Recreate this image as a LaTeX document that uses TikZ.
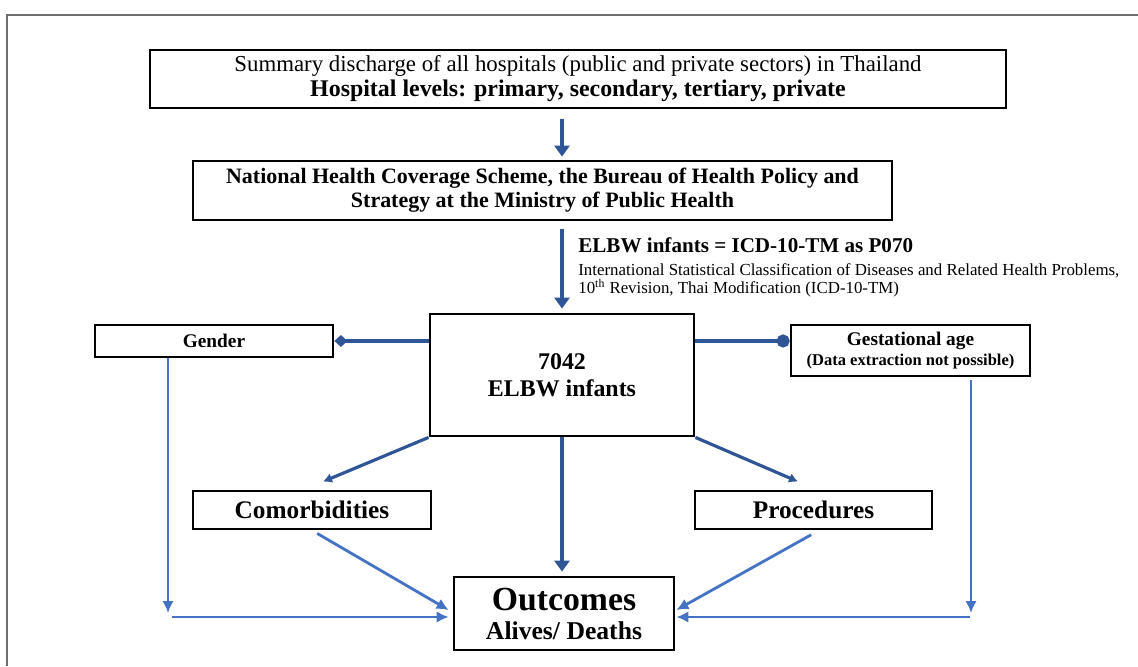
\documentclass[tikz,border=0pt]{standalone}
\usepackage{fontspec}
\setmainfont{Liberation Serif}
\usepackage{xcolor}
\usepackage{tikz}
\usetikzlibrary{arrows.meta,positioning,calc}
\definecolor{flowdark}{HTML}{2F5597}
\definecolor{flowlight}{HTML}{4472C4}
\definecolor{framegray}{HTML}{6E6E6E}
\tikzset{
  stagebox/.style={draw=black,line width=1.6pt,fill=white,align=center,inner sep=1pt},
  mainarrow/.style={-{Triangle[length=2.2mm,width=3mm]},draw=flowdark,line width=2pt},
  sidearrow/.style={-{Latex[length=1.8mm,width=2mm]},draw=flowdark,line width=1.8pt},
  factorarrow/.style={-{Latex[length=2.4mm,width=2.3mm]},draw=flowlight,line width=1.6pt},
  diamondlink/.style={-{Diamond[length=2.6mm,width=2.4mm]},draw=flowdark,line width=1.8pt},
  circlelink/.style={-{Circle[length=2.6mm]},draw=flowdark,line width=1.8pt},
  framedge/.style={draw=framegray,line width=1.1pt}
}

\begin{document}
\begin{tikzpicture}[x=0.02cm,y=-0.02cm]
  \useasboundingbox (0,0) rectangle (1138,666);
  \draw[framedge] (1138,15) -- (7,15) -- (7,666);

  \node[stagebox,minimum width=17.12cm,minimum height=1.16cm,font=\fontsize{13}{14.2}\selectfont] (source) at (578,79)
    {Summary discharge of all hospitals (public and private sectors) in Thailand\\
     {\fontsize{13.6}{14.2}\selectfont\bfseries Hospital levels: primary, secondary, tertiary, private}};
  \node[stagebox,minimum width=13.98cm,minimum height=1.18cm,font=\fontsize{12.5}{13.6}\selectfont\bfseries] (scheme) at (542.5,190.5)
    {National Health Coverage Scheme, the Bureau of Health Policy and\\
     Strategy at the Ministry of Public Health};
  \node[anchor=west,font=\fontsize{12}{14}\selectfont\bfseries,inner sep=0pt] (icdhead) at (578,245)
    {ELBW infants = ICD-10-TM as P070};
  \node[align=left,font=\fontsize{9.6}{10.4}\selectfont,inner sep=0pt,below=0.2cm of icdhead.south west,anchor=north west] (icdnote)
    {International Statistical Classification of Diseases and Related Health Problems,\\
     10\textsuperscript{th} Revision, Thai Modification (ICD-10-TM)};

  \node[stagebox,minimum width=5.28cm,minimum height=2.44cm,font=\fontsize{13.6}{15.5}\selectfont\bfseries] (elbw) at (562,375)
    {7042\\ELBW infants};
  \node[stagebox,minimum width=4.76cm,minimum height=0.64cm,font=\fontsize{11}{11}\selectfont\bfseries] (gender) at (214,341)
    {Gender};
  \node[stagebox,minimum width=4.78cm,minimum height=1.02cm,font=\fontsize{11}{11.5}\selectfont\bfseries] (gest) at (910.5,350.5)
    {Gestational age\\{\fontsize{9.4}{10}\selectfont (Data extraction not possible)}};
  \node[stagebox,minimum width=4.76cm,minimum height=0.76cm,font=\fontsize{14.4}{14}\selectfont\bfseries] (comorb) at (312,510)
    {Comorbidities};
  \node[stagebox,minimum width=4.74cm,minimum height=0.76cm,font=\fontsize{14.4}{14}\selectfont\bfseries] (proc) at (813.5,510)
    {Procedures};
  \node[stagebox,minimum width=4.4cm,minimum height=1.46cm,font=\fontsize{14.6}{16.5}\selectfont\bfseries] (outc) at (564,613.5)
    {{\fontsize{19.2}{18}\selectfont Outcomes}\\Alives/ Deaths};

  \coordinate (gturn) at (168,613);
  \coordinate (gbase) at (172,617);
  \coordinate (aturn) at (971,613);
  \coordinate (abase) at (970,617);

  \draw[mainarrow,shorten <=0.2cm,shorten >=0.06cm] (source.south -| elbw.north) -- (scheme.north -| elbw.north);
  \draw[mainarrow,shorten <=0.16cm,shorten >=0.08cm] (scheme.south -| elbw.north) -- (elbw.north);
  \draw[diamondlink] (elbw.west |- gender.east) -- (gender.east);
  \draw[circlelink] (elbw.east |- gender.east) -- (gest.west |- gender.east);
  \draw[sidearrow] (elbw.south west) -- ([xshift=0.22cm,yshift=0.16cm]comorb.north);
  \draw[sidearrow] (elbw.south east) -- ([xshift=-0.31cm,yshift=0.16cm]proc.north);
  \draw[mainarrow,shorten >=0.08cm] (elbw.south) -- (elbw.south |- outc.north);

  \draw[factorarrow] (gender.south -| gturn) -- (gturn);
  \draw[factorarrow,shorten >=0.08cm] (gbase) -- (outc.west |- gbase);
  \draw[factorarrow,shorten <=0.06cm] (gest.south -| aturn) -- (aturn);
  \draw[factorarrow,shorten >=0.02cm] (abase) -- (outc.east |- abase);
  \draw[factorarrow,shorten <=0.12cm] (comorb.south) -- ([xshift=-0.08cm,yshift=0.07cm]outc.west);
  \draw[factorarrow,shorten <=0.18cm] ([xshift=0.11cm]proc.south) -- ([xshift=0.02cm,yshift=0.07cm]outc.east);
\end{tikzpicture}
\end{document}
